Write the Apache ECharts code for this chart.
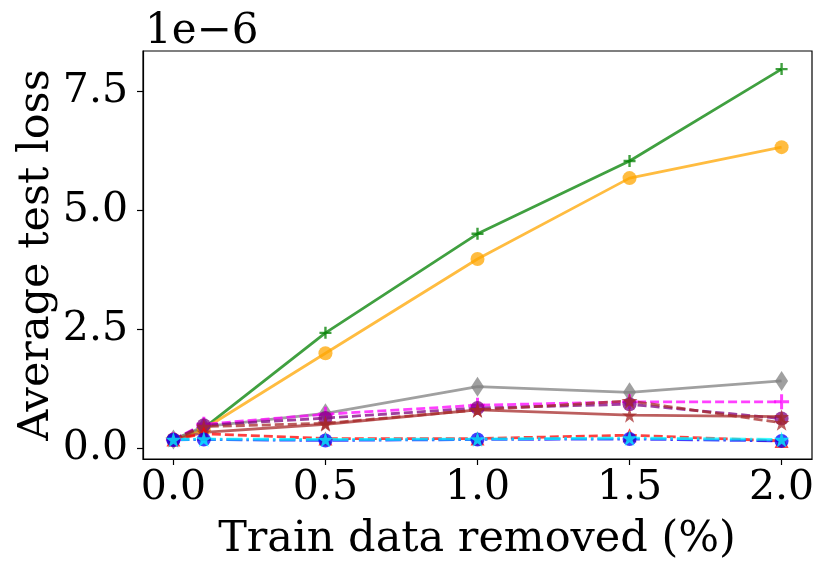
<!DOCTYPE html>
<html><head><meta charset="utf-8">
<script src="https://cdn.jsdelivr.net/npm/echarts@6/dist/echarts.min.js"></script>
<style>html,body{margin:0;padding:0;background:#fff}#c{width:830px;height:575px}</style>
</head><body><div id="c"></div>
<script>
// x positions (% train data removed)
const xs = [0, 0.1, 0.5, 1.0, 1.5, 2.0];
// y values in units of 1e-6
const greenPlus    = [0.18, 0.42, 2.42, 4.50, 6.03, 7.96];
const orangeCircle = [0.18, 0.40, 1.99, 3.97, 5.67, 6.32];
const grayDiamond  = [0.18, 0.45, 0.73, 1.29, 1.17, 1.41];
const magentaPlus  = [0.18, 0.50, 0.71, 0.90, 0.97, 0.97];
const purpleCircle = [0.18, 0.48, 0.63, 0.84, 0.92, 0.62];
const brownStar    = [0.18, 0.33, 0.50, 0.80, 0.69, 0.66];
const brownDashStar= [0.18, 0.45, 0.52, 0.80, 0.99, 0.53];
const redTriangle  = [0.18, 0.30, 0.20, 0.20, 0.27, 0.15];
const blueCircle   = [0.17, 0.18, 0.16, 0.18, 0.19, 0.15];
const cyanStar     = [0.18, 0.19, 0.18, 0.19, 0.21, 0.18];
const yTicks = [0, 2.5, 5.0, 7.5];
const xTicks = [0, 0.5, 1.0, 1.5, 2.0];

const FONT = 'DejaVu Serif';
const PLUS = 'path://M4,0H6V4H10V6H6V10H4V6H0V4H4Z';
const STAR = 'path://M50,0 L61,35 L98,35 L68,57 L79,91 L50,70 L21,91 L32,57 L2,35 L39,35 Z';

function mk(name, vals, color, type, symbol, size) {
  return {
    name, type: 'line', data: xs.map((x, i) => [x, vals[i]]),
    symbol, symbolSize: size, showSymbol: true,
    lineStyle: { color, width: 2.8, type, opacity: 0.75 },
    itemStyle: { color, opacity: 0.75 },
    emphasis: { disabled: true }, animation: false
  };
}

const chart = echarts.init(document.getElementById('c'), null, { renderer: 'canvas' });
chart.setOption({
  animation: false,
  grid: { left: 143, right: 18, top: 51, bottom: 116 },
  xAxis: {
    type: 'value', min: -0.1, max: 2.1,
    axisLine: { show: true, onZero: false, lineStyle: { color: '#000', width: 1.2 } },
    axisTick: { show: true, length: 6, lineStyle: { color: '#000', width: 1.2 }, customValues: xTicks },
    axisLabel: { fontFamily: FONT, fontSize: 41, color: '#000', margin: 9, customValues: xTicks,
      formatter: v => v.toFixed(1) },
    splitLine: { show: false }
  },
  yAxis: {
    type: 'value', min: -0.23, max: 8.34,
    axisLine: { show: true, onZero: false, lineStyle: { color: '#000', width: 1.2 } },
    axisTick: { show: true, length: 6, lineStyle: { color: '#000', width: 1.2 }, customValues: yTicks },
    axisLabel: { fontFamily: FONT, fontSize: 41, color: '#000', margin: 15, customValues: yTicks,
      formatter: v => v.toFixed(1) },
    splitLine: { show: false }
  },
  graphic: [
    { type: 'rect', shape: { x: 143, y: 51, width: 669, height: 408 }, style: { fill: 'none', stroke: '#000', lineWidth: 1.2 }, z: 100, silent: true },
    { type: 'text', left: 145, top: 11, style: { text: '1e\u22126', fontFamily: FONT, fontSize: 42, fill: '#000' } },
    { type: 'text', x: 477, y: 540, style: { text: 'Train data removed (%)', fontFamily: FONT, fontSize: 43, fill: '#000', align: 'center', verticalAlign: 'middle' } },
    { type: 'text', x: 37, y: 255, rotation: Math.PI / 2, style: { text: 'Average test loss', fontFamily: FONT, fontSize: 43, fill: '#000', align: 'center', verticalAlign: 'middle' } }
  ],
  series: [
    mk('green', greenPlus, '#008000', 'solid', PLUS, 12),
    mk('orange', orangeCircle, '#ffa500', 'solid', 'circle', 14),
    mk('gray', grayDiamond, '#808080', 'solid', 'diamond', [13, 20]),
    mk('magenta', magentaPlus, '#ff00ff', [9, 4], PLUS, 15),
    mk('purple', purpleCircle, '#800080', [9, 4], 'circle', 14),
    mk('brown', brownStar, '#a52a2a', 'solid', STAR, 15),
    mk('brownDash', brownDashStar, '#a52a2a', [9, 4], STAR, 16),
    mk('red', redTriangle, '#ff0000', [9, 4], 'triangle', 14),
    mk('blue', blueCircle, '#0000ff', [16, 4, 2.5, 4], 'circle', 14),
    mk('cyan', cyanStar, '#00ffff', [16, 4, 2.5, 4], STAR, 16)
  ]
});
</script></body></html>
